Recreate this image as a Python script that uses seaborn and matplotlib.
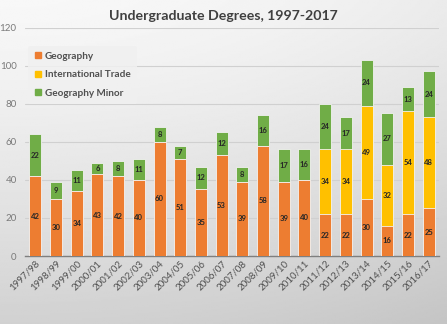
import numpy as np
import pandas as pd
import matplotlib
matplotlib.use("Agg")
import matplotlib.pyplot as plt
import seaborn as sns
from matplotlib.lines import Line2D

years = ["1997/98", "1998/99", "1999/00", "2000/01", "2001/02", "2002/03", "2003/04",
         "2004/05", "2005/06", "2006/07", "2007/08", "2008/09", "2009/10", "2010/11",
         "2011/12", "2012/13", "2013/14", "2014/15", "2015/16", "2016/17"]
geography = [42, 30, 34, 43, 42, 40, 60, 51, 35, 53, 39, 58, 39, 40, 22, 22, 30, 16, 22, 25]
intl_trade = [0, 0, 0, 0, 0, 0, 0, 0, 0, 0, 0, 0, 0, 0, 34, 34, 49, 32, 54, 48]
geo_minor = [22, 9, 11, 6, 8, 11, 8, 7, 12, 12, 8, 16, 17, 16, 24, 17, 24, 27, 13, 24]
series_names = ["Geography", "International Trade", "Geography Minor"]
colors = ["#ED7D31", "#FFC000", "#70AD47"]

sns.set_theme(style="white")
plt.rcParams['font.family'] = ['Lato', 'DejaVu Sans']

df = pd.DataFrame({"year": years, "geo": geography, "it": intl_trade, "minor": geo_minor})
df["c1"] = df["geo"]
df["c2"] = df["geo"] + df["it"]
df["c3"] = df["c2"] + df["minor"]

fig = plt.figure(figsize=(4.47, 3.24), dpi=100)

# background gradient
bg = fig.add_axes([0, 0, 1, 1], zorder=-10)
yy, xx = np.mgrid[0:1:200j, 0:1:200j]
val = 0.97 - 0.15 * yy ** 1.3 - 0.05 * xx ** 2
bg.imshow(val, cmap="gray", vmin=0, vmax=1, aspect="auto", extent=[0, 1, 0, 1], origin="upper")
bg.axis("off")

ax = fig.add_axes([25 / 447, 1 - 256 / 324, (439 - 25) / 447, (256 - 27.7) / 324])
ax.set_facecolor("none")

w = 0.58
sns.barplot(data=df, x="year", y="c3", color=colors[2], width=w, saturation=1,
            edgecolor="#f2f2f2", linewidth=0.6, ax=ax, zorder=2)
sns.barplot(data=df, x="year", y="c2", color=colors[1], width=w, saturation=1,
            edgecolor="#f2f2f2", linewidth=0.6, ax=ax, zorder=3)
sns.barplot(data=df, x="year", y="c1", color=colors[0], width=w, saturation=1,
            edgecolor="#f2f2f2", linewidth=0.6, ax=ax, zorder=4)

for i, r in df.iterrows():
    segs = [(r["geo"], 0), (r["it"], r["c1"]), (r["minor"], r["c2"])]
    for v, b in segs:
        if v > 0:
            ax.text(i, b + v / 2, str(v), ha="center", va="center", fontsize=5.5,
                    fontweight="bold", color="#262626", zorder=6)

ax.set_ylim(0, 120)
ax.set_xlim(-0.5, 19.5)
ax.set_yticks(range(0, 121, 20))
ax.yaxis.grid(True, color="#d0d0d0", linewidth=0.8, zorder=0)
ax.set_axisbelow(True)
for s in ["left", "right", "top"]:
    ax.spines[s].set_visible(False)
ax.spines["bottom"].set_color("#7f7f7f")
ax.spines["bottom"].set_linewidth(1.0)
ax.set_xlabel("")
ax.set_ylabel("")
ax.tick_params(axis="y", length=0, labelsize=7, labelcolor="#7a7a7a", pad=6)
ax.tick_params(axis="x", length=0, labelsize=7, labelcolor="#505050", pad=2)
plt.setp(ax.get_xticklabels(), rotation=45, ha="right", rotation_mode="anchor")

handles = [Line2D([0], [0], marker="s", linestyle="none", markersize=4.5,
                  markerfacecolor=c, markeredgecolor=c) for c in colors]
leg = ax.legend(handles, series_names, loc="upper left", bbox_to_anchor=(0.0, 0.935),
                frameon=True, fontsize=7.2, handletextpad=0.3, labelspacing=0.95,
                borderpad=0.6, handlelength=0.8, borderaxespad=0.3)
leg.get_frame().set_facecolor("#f0f0f0")
leg.get_frame().set_alpha(0.85)
leg.get_frame().set_edgecolor("none")
for t in leg.get_texts():
    t.set_color("#505050")
    t.set_fontweight("bold")

fig.text(0.5, 1 - 16 / 324, "Undergraduate Degrees, 1997-2017", ha="center", va="center",
         fontsize=10.2, color="#404040", fontweight="bold")

fig.savefig("out.png", dpi=100)
